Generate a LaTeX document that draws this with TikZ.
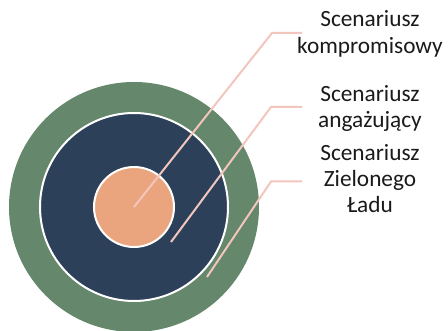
\documentclass[tikz,border=0pt]{standalone}
\usepackage{fontspec}
\setmainfont{Carlito}
\definecolor{ringgreen}{HTML}{65876B}
\definecolor{ringblue}{HTML}{2C4159}
\definecolor{coreorange}{HTML}{EBA57E}
\definecolor{leader}{HTML}{F2C6BD}
\definecolor{labeltext}{HTML}{1A1A1A}
\tikzset{
  ring/.style={circle, inner sep=0pt, draw=white, line width=2pt},
  leaderline/.style={draw=leader, line width=2pt},
  lbl/.style={align=center, inner sep=0pt, text=labeltext, font=\fontsize{23.3}{26.3}\selectfont, anchor=base}
}
\begin{document}
\begin{tikzpicture}[x=1pt,y=-1pt]
\useasboundingbox (0,0) rectangle (448,331);
\node[circle, inner sep=0pt, fill=ringgreen, minimum size=250pt] (outer) at (134,207) {};
\node[ring, fill=ringblue, minimum size=188pt] (middle) at (134,207) {};
\node[ring, fill=coreorange, minimum size=80pt] (core) at (134,207) {};
\coordinate (p1) at (134,207);
\coordinate (p2) at (171,242);
\coordinate (p3) at (207,277);
\coordinate (k1) at (272,33);
\coordinate (k2) at (271,107);
\coordinate (k3) at (271,181.5);
\coordinate (e1) at (302,33);
\coordinate (e2) at (302,107);
\coordinate (e3) at (302,181.5);
\draw[leaderline] (p1) -- (k1) -- (e1);
\draw[leaderline] (p2) -- (k2) -- (e2);
\draw[leaderline] (p3) -- (k3) -- (e3);
\node[lbl] (l1) at (370,53.3) {Scenariusz\\kompromisowy};
\node[lbl] (l2) at (370,127.5) {Scenariusz\\angażujący};
\node[lbl] (l3) at (370,212.7) {Scenariusz\\Zielonego\\Ładu};
\end{tikzpicture}
\end{document}
